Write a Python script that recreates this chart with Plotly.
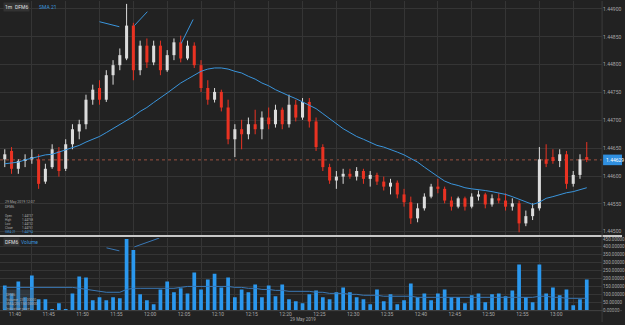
import plotly.graph_objects as go
import pandas as pd

# ---------------- data ----------------
times = pd.date_range("2019-05-29 11:36", periods=87, freq="1min")

open_ = [1.44630, 1.44645, 1.44613, 1.44627, 1.44630, 1.44630, 1.44590, 1.44616, 1.44645, 1.44613,
         1.44657, 1.44680, 1.44693, 1.44737, 1.44758, 1.44737, 1.44781, 1.44799, 1.44811, 1.44870,
         1.44790, 1.44834, 1.44804, 1.44834, 1.44790, 1.44817, 1.44840, 1.44811, 1.44834, 1.44799,
         1.44758, 1.44737, 1.44751, 1.44723, 1.44666, 1.44684, 1.44675, 1.44693, 1.44684, 1.44705,
         1.44693, 1.44719, 1.44693, 1.44728, 1.44705, 1.44733, 1.44698, 1.44652, 1.44616, 1.44592,
         1.44599, 1.44604, 1.44599, 1.44609, 1.44595, 1.44602, 1.44590, 1.44581, 1.44588, 1.44567,
         1.44553, 1.44524, 1.44542, 1.44563, 1.44581, 1.44577, 1.44556, 1.44545, 1.44560, 1.44545,
         1.44563, 1.44567, 1.44549, 1.44560, 1.44556, 1.44545, 1.44551, 1.44515, 1.44528, 1.44542,
         1.44630, 1.44634, 1.44627, 1.44639, 1.44586, 1.44602, 1.44634]
high = [1.44648, 1.44652, 1.44630, 1.44639, 1.44648, 1.44639, 1.44622, 1.44657, 1.44652, 1.44666,
        1.44693, 1.44701, 1.44746, 1.44764, 1.44772, 1.44790, 1.44808, 1.44829, 1.44909, 1.44875,
        1.44843, 1.44847, 1.44843, 1.44843, 1.44826, 1.44847, 1.44852, 1.44843, 1.44840, 1.44808,
        1.44772, 1.44758, 1.44755, 1.44737, 1.44693, 1.44701, 1.44705, 1.44719, 1.44716, 1.44723,
        1.44728, 1.44723, 1.44746, 1.44737, 1.44740, 1.44740, 1.44705, 1.44657, 1.44622, 1.44609,
        1.44613, 1.44613, 1.44616, 1.44613, 1.44609, 1.44606, 1.44599, 1.44595, 1.44592, 1.44577,
        1.44563, 1.44551, 1.44569, 1.44586, 1.44595, 1.44581, 1.44563, 1.44563, 1.44563, 1.44569,
        1.44574, 1.44570, 1.44567, 1.44569, 1.44569, 1.44560, 1.44556, 1.44538, 1.44551, 1.44652,
        1.44657, 1.44648, 1.44648, 1.44645, 1.44609, 1.44639, 1.44661]
low = [1.44616, 1.44604, 1.44604, 1.44616, 1.44622, 1.44577, 1.44586, 1.44613, 1.44599, 1.44609,
       1.44648, 1.44666, 1.44684, 1.44728, 1.44728, 1.44733, 1.44764, 1.44790, 1.44808, 1.44772,
       1.44781, 1.44794, 1.44799, 1.44781, 1.44787, 1.44808, 1.44804, 1.44808, 1.44794, 1.44751,
       1.44728, 1.44732, 1.44716, 1.44657, 1.44634, 1.44648, 1.44666, 1.44675, 1.44666, 1.44684,
       1.44687, 1.44684, 1.44687, 1.44698, 1.44701, 1.44687, 1.44645, 1.44609, 1.44586, 1.44577,
       1.44586, 1.44595, 1.44592, 1.44586, 1.44581, 1.44584, 1.44574, 1.44567, 1.44560, 1.44545,
       1.44514, 1.44517, 1.44538, 1.44560, 1.44569, 1.44551, 1.44538, 1.44542, 1.44538, 1.44542,
       1.44556, 1.44542, 1.44545, 1.44551, 1.44538, 1.44538, 1.44499, 1.44510, 1.44521, 1.44538,
       1.44616, 1.44622, 1.44616, 1.44577, 1.44581, 1.44595, 1.44625]
close = [1.44639, 1.44613, 1.44627, 1.44630, 1.44634, 1.44586, 1.44613, 1.44648, 1.44609, 1.44657,
         1.44684, 1.44693, 1.44737, 1.44755, 1.44737, 1.44781, 1.44799, 1.44817, 1.44870, 1.44790,
         1.44834, 1.44804, 1.44834, 1.44790, 1.44817, 1.44840, 1.44811, 1.44834, 1.44799, 1.44758,
         1.44737, 1.44751, 1.44723, 1.44666, 1.44684, 1.44675, 1.44693, 1.44684, 1.44705, 1.44693,
         1.44719, 1.44693, 1.44728, 1.44705, 1.44733, 1.44698, 1.44652, 1.44616, 1.44592, 1.44599,
         1.44604, 1.44599, 1.44609, 1.44595, 1.44602, 1.44590, 1.44581, 1.44588, 1.44567, 1.44553,
         1.44524, 1.44542, 1.44563, 1.44581, 1.44577, 1.44556, 1.44545, 1.44560, 1.44545, 1.44563,
         1.44567, 1.44549, 1.44560, 1.44556, 1.44545, 1.44551, 1.44515, 1.44528, 1.44542, 1.44630,
         1.44622, 1.44627, 1.44639, 1.44586, 1.44602, 1.44630, 1.44629]
sma21 = [1.44622, 1.44623, 1.44625, 1.44629, 1.44632, 1.44634, 1.44638, 1.44639, 1.44643, 1.44646,
         1.44650, 1.44655, 1.44661, 1.44666, 1.44671, 1.44678, 1.44685, 1.44693, 1.44700, 1.44707,
         1.44716, 1.44723, 1.44732, 1.44740, 1.44749, 1.44758, 1.44767, 1.44774, 1.44781, 1.44788,
         1.44792, 1.44794, 1.44794, 1.44792, 1.44788, 1.44785, 1.44779, 1.44774, 1.44767, 1.44762,
         1.44755, 1.44749, 1.44744, 1.44739, 1.44733, 1.44728, 1.44721, 1.44712, 1.44703, 1.44694,
         1.44685, 1.44678, 1.44671, 1.44666, 1.44661, 1.44655, 1.44652, 1.44648, 1.44643, 1.44638,
         1.44632, 1.44625, 1.44616, 1.44607, 1.44599, 1.44591, 1.44586, 1.44583, 1.44579, 1.44577,
         1.44576, 1.44574, 1.44572, 1.44570, 1.44567, 1.44563, 1.44558, 1.44553, 1.44549, 1.44553,
         1.44560, 1.44563, 1.44567, 1.44570, 1.44572, 1.44576, 1.44579]
volume = [156, 106, 181, 81, 219, 69, 69, 6, 44, 6,
          106, 213, 206, 63, 81, 63, 81, 75, 450, 381,
          100, 63, 38, 131, 181, 113, 138, 106, 238, 131,
          194, 231, 144, 206, 81, 131, 113, 163, 81, 156,
          88, 163, 69, 56, 44, 100, 125, 81, 69, 113,
          144, 113, 81, 69, 38, 131, 56, 100, 38, 63,
          169, 81, 106, 63, 106, 131, 81, 81, 44, 94,
          106, 50, 100, 106, 88, 125, 288, 81, 50, 288,
          106, 144, 94, 131, 31, 69, 194]
vol_ma = [144, 144, 144, 144, 144, 144, 144, 144, 144, 144,
          144, 138, 131, 125, 119, 113, 113, 113, 131, 138,
          138, 138, 138, 138, 138, 138, 144, 150, 150, 150,
          150, 150, 150, 150, 144, 144, 138, 138, 131, 131,
          125, 125, 119, 119, 119, 119, 113, 113, 106, 106,
          106, 100, 100, 94, 94, 94, 88, 88, 88, 88,
          88, 81, 81, 81, 81, 81, 81, 81, 81, 81,
          81, 81, 81, 81, 81, 81, 81, 81, 81, 88,
          88, 81, 81, 75, 75, 75, 75]

# stray indicator segments near the top of each panel
glitch_t = ["2019-05-29 11:50:00", "2019-05-29 11:52:56", None,
            "2019-05-29 11:55:09", "2019-05-29 11:57:04", None,
            "2019-05-29 12:02:04", "2019-05-29 12:03:50"]
glitch_p = [1.44877, 1.44868, None, 1.44870, 1.44895, None, 1.44838, 1.44881]
vglitch_t = ["2019-05-29 11:51:02", "2019-05-29 11:52:56", None,
             "2019-05-29 11:55:09", "2019-05-29 11:58:50"]
vglitch_v = [394, 375, None, 400, 456]

symbol = "DFM6"
last_price = close[-1]

# ---------------- style ----------------
BG = "#222222"
GRID = "#353535"
TXT = "#a8a8a8"
BLUE = "#3a95dc"
UP = "#dcdcdc"
DOWN = "#ea3323"
FONT = "Roboto"
W, H = 625, 325

def py(p):  # pixel-from-top -> paper y
    return 1 - p / H

def px(p):
    return p / W

x_range = ["2019-05-29 11:35:17.6", "2019-05-29 13:04:16"]

fig = go.Figure()

# candles: wicks + bodies
for is_up, col in ((True, UP), (False, DOWN)):
    wx, wy, bx, bb, bh = [], [], [], [], []
    for t, o, h, l, c in zip(times, open_, high, low, close):
        if (c >= o) != is_up:
            continue
        wx += [t, t, None]
        wy += [l, h, None]
        bx.append(t)
        bb.append(min(o, c))
        bh.append(abs(c - o))
    fig.add_trace(go.Scatter(x=wx, y=wy, mode="lines", line=dict(color=col, width=1),
                             xaxis="x", yaxis="y", showlegend=False, hoverinfo="skip",
                             connectgaps=False))
    fig.add_trace(go.Bar(x=bx, y=bh, base=bb, width=27000,
                         marker=dict(color=col, line=dict(width=0)),
                         xaxis="x", yaxis="y", showlegend=False, hoverinfo="skip"))

fig.add_trace(go.Scatter(x=times, y=sma21, mode="lines", line=dict(color=BLUE, width=1),
                         xaxis="x", yaxis="y", showlegend=False, hoverinfo="skip"))
fig.add_trace(go.Scatter(x=glitch_t, y=glitch_p, mode="lines", line=dict(color=BLUE, width=1),
                         xaxis="x", yaxis="y", showlegend=False, hoverinfo="skip", connectgaps=False))
fig.add_trace(go.Bar(x=times, y=volume, width=33000, marker=dict(color="#2b98ee", line=dict(width=0)),
                     xaxis="x2", yaxis="y2", showlegend=False, hoverinfo="skip"))
fig.add_trace(go.Scatter(x=times, y=vol_ma, mode="lines", line=dict(color="#3a78b5", width=1),
                         xaxis="x2", yaxis="y2", showlegend=False, hoverinfo="skip"))
fig.add_trace(go.Scatter(x=vglitch_t, y=vglitch_v, mode="lines", line=dict(color="#3a78b5", width=1),
                         xaxis="x2", yaxis="y2", showlegend=False, hoverinfo="skip", connectgaps=False))

xcommon = dict(type="date", range=x_range, domain=[0, 605 / W], showgrid=True, gridcolor=GRID,
               gridwidth=1, tick0="2019-05-29 11:40", dtick=300000, zeroline=False, showline=False,
               ticks="", fixedrange=True)
fig.update_layout(
    width=W, height=H, margin=dict(l=0, r=0, t=0, b=0),
    paper_bgcolor=BG, plot_bgcolor=BG, barmode="overlay",
    font=dict(family=FONT, size=5, color=TXT),
    xaxis=dict(**xcommon, anchor="y", showticklabels=False),
    xaxis2=dict(**xcommon, anchor="y2", showticklabels=True, tickformat="%H:%M",
                ticklabelshift=-17, tickfont=dict(size=5, color=TXT)),
    yaxis=dict(domain=[py(237), 1], range=[1.44494, 1.449142], side="right", anchor="x",
               tick0=1.445, dtick=0.0005, tickformat=".5f", showgrid=True, gridcolor=GRID,
               zeroline=False, ticks="", tickfont=dict(size=5, color=TXT), fixedrange=True),
    yaxis2=dict(domain=[py(313), py(240)], range=[0, 456], side="right", anchor="x2",
                tick0=0, dtick=50, tickformat=".5f", showgrid=True, gridcolor=GRID,
                zeroline=False, ticks="", tickfont=dict(size=4.5, color=TXT), fixedrange=True),
)

shapes = [
    # current price dotted line across the whole plot
    dict(type="line", xref="paper", yref="y", x0=0, x1=px(605), y0=last_price, y1=last_price,
         line=dict(color="#9a5040", width=1, dash="dot"), layer="below"),
    dict(type="line", xref="paper", yref="paper", x0=0, x1=1, y0=py(238), y1=py(238),
         line=dict(color="#c8c8c8", width=2)),
    dict(type="line", xref="paper", yref="paper", x0=px(605), x1=px(605), y0=0, y1=1,
         line=dict(color="#3c3c3c", width=1)),
    dict(type="line", xref="paper", yref="paper", x0=0, x1=1, y0=py(313.5), y1=py(313.5),
         line=dict(color="#444444", width=1)),
    dict(type="rect", xref="paper", yref="y", x0=px(606), x1=1,
         y0=last_price - 0.000095, y1=last_price + 0.000095,
         fillcolor="#2f8fe0", line=dict(width=0)),
    dict(type="rect", xref="paper", yref="paper", x0=px(2), x1=px(34), y0=py(312), y1=py(292),
         fillcolor="rgba(70,90,110,0.35)", line=dict(width=0)),
]
fig.update_layout(shapes=shapes)

ann = []
def text(x, y, s, color=TXT, size=5, bg=None, xanchor="left", yanchor="middle"):
    d = dict(xref="paper", yref="paper", x=px(x), y=py(y), text=s, showarrow=False,
             xanchor=xanchor, yanchor=yanchor, align="left",
             font=dict(size=size, color=color, family=FONT))
    if bg:
        d["bgcolor"] = bg
        d["borderpad"] = 1
    ann.append(d)

text(3, 6, "1m", color="#e0e0e0", bg="#333333")
text(13, 6, symbol, color="#e0e0e0", bg="#333333")
text(37, 6, "SMA 21", color=BLUE)
text(3, 244, symbol, color="#e0e0e0", bg="#333333")
text(19, 244, "Volume", color=BLUE)

# crosshair info box (main) - two multi-line columns
k = 31
text(3, 203, "29 May 2019 " + times[k].strftime("%H:%M"), size=3.5)
text(3, 209, symbol, size=3.5)
labels = ["Open", "High", "Low", "Close", "<span style='color:%s'>SMA 21</span>" % BLUE]
vals = [f"{v:.5f}" for v in (open_[k], high[k], low[k], close[k])]
vals.append("<span style='color:%s'>%.5f</span>" % (BLUE, sma21[k]))
text(3, 214, "<br>".join(labels), size=3, yanchor="top")
text(20, 214, "<br>".join(vals), size=3, yanchor="top")

# volume info box
vrows = [symbol, f"Volume  {volume[k]:.5f}", f"SMA(20) {vol_ma[k]:.5f}", "Indicative price"]
text(4, 294, "<br>".join(vrows), size=3.5, yanchor="top")

# current price label
ann.append(dict(xref="paper", yref="y", x=px(607), y=last_price, text=f"{last_price:.5f}",
                showarrow=False, xanchor="left", yanchor="middle",
                font=dict(size=5, color="#ffffff", family=FONT)))
text(304, 322, "29 May 2019", size=4.5, xanchor="center")

fig.update_layout(annotations=ann)
fig.write_html("out.html")
